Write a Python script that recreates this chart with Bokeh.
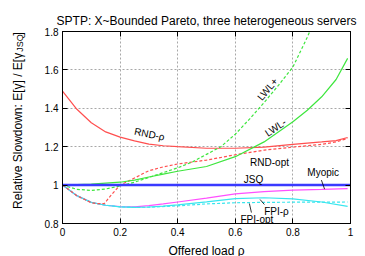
from bokeh.plotting import figure
from bokeh.layouts import row
from bokeh.models import Range1d, FixedTicker, LinearAxis, Label
from bokeh.embed import file_html
from bokeh.resources import INLINE
import math

# ---- data ----
rnd_rho_x = [0, 0.05, 0.1, 0.15, 0.2, 0.25, 0.3, 0.35, 0.4, 0.5, 0.6, 0.7, 0.8, 0.9, 0.95, 0.99]
rnd_rho_y = [1.49, 1.395, 1.325, 1.277, 1.25, 1.23, 1.213, 1.205, 1.2, 1.192, 1.192, 1.198, 1.212, 1.225, 1.232, 1.248]

rnd_opt_x = [0, 0.05, 0.1, 0.12, 0.145, 0.17, 0.2, 0.236, 0.28, 0.3, 0.35, 0.4, 0.5, 0.6, 0.7, 0.8, 0.9, 0.95, 0.99]
rnd_opt_y = [1.0, 0.945, 0.908, 0.904, 0.903, 0.95, 1.0, 1.026, 1.06, 1.075, 1.095, 1.11, 1.13, 1.158, 1.182, 1.198, 1.212, 1.225, 1.243]

lwl_plus_x = [0, 0.05, 0.1, 0.15, 0.2, 0.25, 0.3, 0.35, 0.4, 0.45, 0.5, 0.55, 0.6, 0.65, 0.7, 0.75, 0.8, 0.85, 0.87]
lwl_plus_y = [1.0, 0.978, 0.972, 0.98, 0.995, 1.015, 1.04, 1.065, 1.09, 1.12, 1.16, 1.2, 1.265, 1.345, 1.43, 1.52, 1.615, 1.77, 1.84]

lwl_minus_x = [0, 0.1, 0.2, 0.25, 0.3, 0.35, 0.4, 0.5, 0.6, 0.7, 0.8, 0.85, 0.9, 0.95, 0.99]
lwl_minus_y = [1.0, 1.005, 1.015, 1.026, 1.042, 1.057, 1.072, 1.097, 1.148, 1.225, 1.33, 1.39, 1.46, 1.55, 1.66]

jsq_x = [0, 1]
jsq_y = [1.0, 1.0]

myopic_x = [0, 0.05, 0.1, 0.15, 0.2, 0.25, 0.3, 0.35, 0.4, 0.5, 0.6, 0.7, 0.8, 0.9, 0.99]
myopic_y = [1.0, 0.945, 0.91, 0.895, 0.888, 0.887, 0.893, 0.902, 0.912, 0.932, 0.954, 0.966, 0.974, 0.978, 0.982]

fpi_rho_x = [0, 0.05, 0.1, 0.15, 0.2, 0.25, 0.3, 0.35, 0.4, 0.5, 0.6, 0.7, 0.8, 0.9, 0.99]
fpi_rho_y = [1.0, 0.945, 0.91, 0.895, 0.887, 0.884, 0.886, 0.89, 0.897, 0.913, 0.93, 0.934, 0.928, 0.912, 0.889]

fpi_opt_x = [0, 0.05, 0.1, 0.15, 0.2, 0.25, 0.3, 0.4, 0.5, 0.6, 0.7, 0.8, 0.9, 0.99]
fpi_opt_y = [1.0, 0.945, 0.91, 0.895, 0.887, 0.884, 0.885, 0.892, 0.902, 0.908, 0.91, 0.911, 0.911, 0.912]

x_ticks = [0, 0.2, 0.4, 0.6, 0.8, 1]
x_tick_labels = ["0", "0.2", "0.4", "0.6", "0.8", "1"]
y_ticks = [0.8, 1.0, 1.2, 1.4, 1.6, 1.8]
y_tick_labels = ["0.8", "1", "1.2", "1.4", "1.6", "1.8"]

title_text = "SPTP: X~Bounded Pareto, three heterogeneous servers"
x_label = "Offered load \u03c1"
y_label_main = "Relative Slowdown: E[\u03b3] / E[\u03b3"
y_label_sub = "JSQ"
y_label_end = "]"

# curve labels: text, x, y, angle(rad)
curve_labels = [
    ("RND-\u03c1", 0.302, 1.265, -0.2),
    ("LWL+", 0.712, 1.50, 0.87),
    ("LWL-", 0.74, 1.30, 0.6),
    ("RND-opt", 0.719, 1.117, 0.0),
    ("JSQ", 0.663, 1.027, 0.0),
    ("Myopic", 0.905, 1.068, 0.0),
    ("FPI-\u03c1", 0.743, 0.865, 0.0),
    ("FPI-opt", 0.675, 0.821, 0.0),
]
# pointer lines: x0, y0, x1, y1
ptr_x0 = [0.899, 0.686, 0.649]
ptr_y0 = [1.026, 0.925, 0.904]
ptr_x1 = [0.91, 0.701, 0.656]
ptr_y1 = [0.979, 0.899, 0.857]

FONT = "Liberation Sans"
H = 254
LW = 38          # width of the y-label strip
BL, BR, BT, BB = 24, 8, 31, 31
FW, FH = 288, 192
FRAME_TOP, FRAME_BOTTOM = BT, BT + FH   # page y of the plot frame edges

# ---- main plot ----
p = figure(frame_width=FW, frame_height=FH, output_backend="svg", toolbar_location=None,
           x_range=Range1d(0, 1), y_range=Range1d(0.8, 1.8),
           min_border_left=BL, min_border_right=BR, min_border_top=BT, min_border_bottom=BB)
p.background_fill_color = "white"
p.border_fill_color = "white"
p.outline_line_color = "black"
p.outline_line_width = 1

p.title.text = title_text
p.title.align = "center"
p.title.text_font = FONT
p.title.text_font_size = "12px"
p.title.text_font_style = "normal"
p.title.text_color = "black"
p.title.standoff = 8

for ax in (p.xaxis[0], p.yaxis[0]):
    ax.major_tick_in = 5
    ax.major_tick_out = 0
    ax.minor_tick_line_color = None
    ax.axis_line_color = "black"
    ax.major_tick_line_color = "black"
    ax.major_label_text_font = FONT
    ax.major_label_text_font_size = "10px"
    ax.major_label_text_color = "black"
    ax.major_label_standoff = 4
p.xaxis[0].ticker = FixedTicker(ticks=x_ticks)
p.xaxis[0].major_label_overrides = dict(zip(x_ticks, x_tick_labels))
p.yaxis[0].ticker = FixedTicker(ticks=y_ticks)
p.yaxis[0].major_label_overrides = dict(zip(y_ticks, y_tick_labels))
p.xaxis[0].axis_label = x_label
p.xaxis[0].axis_label_text_font = FONT
p.xaxis[0].axis_label_text_font_size = "12px"
p.xaxis[0].axis_label_text_font_style = "normal"
p.xaxis[0].axis_label_text_color = "black"
p.xaxis[0].axis_label_standoff = 5

for loc, ticks in (("right", y_ticks), ("above", x_ticks)):
    a = LinearAxis(ticker=FixedTicker(ticks=ticks), major_tick_in=5, major_tick_out=0,
                   minor_tick_line_color=None, axis_line_color="black",
                   major_tick_line_color="black", major_label_standoff=0,
                   major_label_overrides={t: "" for t in ticks})
    p.add_layout(a, loc)

p.xgrid.ticker = FixedTicker(ticks=x_ticks)
p.ygrid.ticker = FixedTicker(ticks=y_ticks)
for g in (p.xgrid[0], p.ygrid[0]):
    g.grid_line_color = "#a8a8a8"
    g.grid_line_dash = "2 2"
    g.grid_line_width = 1

RED = "#ff4f4f"
GREEN = "#3ee63e"
BLUE = "#3a3aff"
MAG = "#ff50ff"
CYAN = "#38e6ee"

p.line(myopic_x, myopic_y, line_color=MAG, line_width=1.2)
p.line(fpi_opt_x, fpi_opt_y, line_color=CYAN, line_width=1.2, line_dash="3 2")
p.line(fpi_rho_x, fpi_rho_y, line_color=CYAN, line_width=1.2)
p.line(rnd_rho_x, rnd_rho_y, line_color=RED, line_width=1.2)
p.line(rnd_opt_x, rnd_opt_y, line_color=RED, line_width=1.2, line_dash="3 2")
p.line(lwl_plus_x, lwl_plus_y, line_color=GREEN, line_width=1.2, line_dash="3 2")
p.line(lwl_minus_x, lwl_minus_y, line_color=GREEN, line_width=1.2)
p.line(jsq_x, jsq_y, line_color=BLUE, line_width=2.5)

for txt, lx, ly, ang in curve_labels:
    p.add_layout(Label(x=lx, y=ly, text=txt, angle=ang, text_align="center",
                       text_baseline="middle", text_font=FONT, text_font_size="10px",
                       text_color="black"))

p.segment(x0=ptr_x0, y0=ptr_y0, x1=ptr_x1, y1=ptr_y1, line_color="black", line_width=0.8)

# ---- y-label strip: its frame is aligned with the main frame, so data y = page y ----
q = figure(width=LW, height=H, output_backend="svg", toolbar_location=None,
           x_range=Range1d(0, LW), y_range=Range1d(FRAME_BOTTOM, FRAME_TOP),
           x_axis_type=None, y_axis_type=None,
           min_border_left=0, min_border_right=0, min_border_top=0, min_border_bottom=0)
q.outline_line_color = None
q.grid.visible = False
q.background_fill_color = "white"
q.border_fill_color = "white"

q.add_layout(Label(x=17, y=53, text=y_label_main, angle=math.pi / 2,
                   text_align="right", text_baseline="middle", text_font=FONT,
                   text_font_size="12px", text_color="black"))
q.add_layout(Label(x=19.5, y=52, text=y_label_sub, angle=math.pi / 2,
                   text_align="left", text_baseline="middle", text_font=FONT,
                   text_font_size="9px", text_color="black"))
q.add_layout(Label(x=17, y=35, text=y_label_end, angle=math.pi / 2,
                   text_align="left", text_baseline="middle", text_font=FONT,
                   text_font_size="12px", text_color="black"))

layout = row(q, p, spacing=0)
open("out.html", "w").write(file_html(layout, INLINE))
